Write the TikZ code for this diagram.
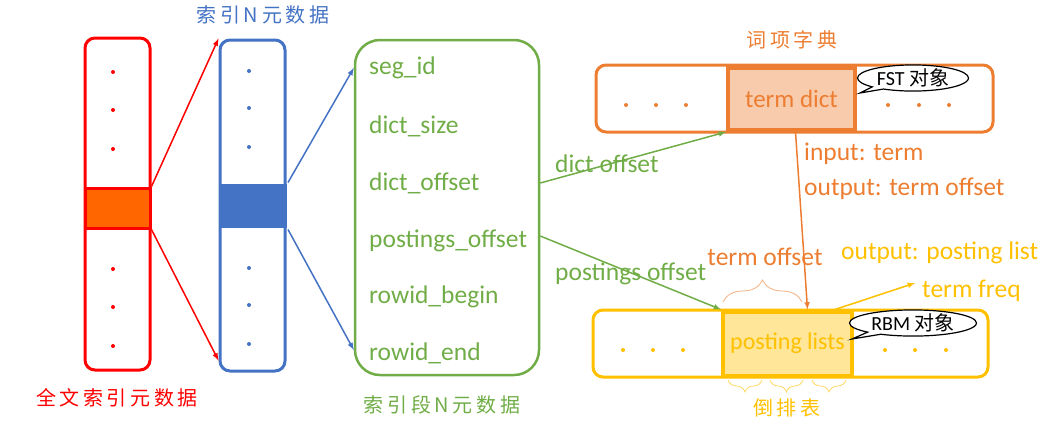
\documentclass[tikz,border=0pt]{standalone}
\usepackage{fontspec}
\setmainfont{Carlito}
\newfontfamily\cjk[LetterSpace=18]{Noto Sans CJK SC}
\newfontfamily\cjkn{Noto Sans CJK SC}
\usetikzlibrary{arrows,calc,shapes.callouts,decorations.pathreplacing}
\definecolor{idxred}{HTML}{FF0000}
\definecolor{bandorange}{HTML}{FF6600}
\definecolor{idxblue}{HTML}{4472C4}
\definecolor{seggreen}{HTML}{70AD47}
\definecolor{dictorange}{HTML}{ED7D31}
\definecolor{dictfill}{HTML}{F8CBAD}
\definecolor{postyellow}{HTML}{FFC000}
\definecolor{postfill}{HTML}{FFE699}
\definecolor{bracedict}{HTML}{F4B183}
\definecolor{bracepost}{HTML}{FFD966}
\tikzset{
	colbox/.style={draw, line width=3pt, rounded corners=10pt, inner sep=0pt},
	band/.style={line width=3pt, inner sep=0pt},
	item/.style={anchor=west, inner sep=2pt, font=\fontsize{25.5}{27}\selectfont},
	cnlabel/.style={inner sep=0pt, font=\cjk\fontsize{20}{22}\selectfont},
	bubble/.style={ellipse callout, draw=black, fill=white, line width=1.2pt, inner sep=0pt, font=\fontsize{20}{22}\selectfont},
	link/.style={-latex, line width=1.5pt},
}
\begin{document}
\begin{tikzpicture}[x=1pt,y=-1pt]
			\useasboundingbox (0,0) rectangle (1064,424);
			\node[colbox, draw=idxred, minimum width=65, minimum height=332] (ftbox) at (117.5,204) {};
			\node[band, draw=idxred, fill=bandorange, minimum width=65, minimum height=40] (ftband) at (117.5,208) {};
			\foreach \y in {72,110,149,269,307,346}
				\fill[idxred] (113,\y) circle (2);
			\node[cnlabel, text=idxred] (ftlabel) at (117,398) {全文索引元数据};
			\node[colbox, draw=idxblue, minimum width=65, minimum height=331] (idxbox) at (252.5,205.5) {};
			\node[band, fill=idxblue, minimum width=68, minimum height=44] (idxband) at (252.5,206) {};
			\foreach \y in {71,108,147,268,305,344}
				\fill[idxblue] (249,\y) circle (2);
			\node[cnlabel, text=idxblue] (idxlabel) at (263,15) {索引N元数据};
			\node[colbox, draw=seggreen, line width=2.5pt, rounded corners=25pt, minimum width=184, minimum height=335] (segbox) at (447,207.5) {};
			\node[item, text=seggreen] (segid) at (367,68) {seg\_id};
			\node[item, text=seggreen] (dictsize) at (367,126) {dict\_size};
			\node[item, text=seggreen] (dictoff) at (367,183) {dict\_offset};
			\node[item, text=seggreen] (postoff) at (367,241) {postings\_offset};
			\node[item, text=seggreen] (rowbegin) at (367,297) {rowid\_begin};
			\node[item, text=seggreen] (rowend) at (367,353) {rowid\_end};
			\node[cnlabel, text=seggreen] (seglabel) at (442,405) {索引段N元数据};
			\draw[link, idxred] (ftband.north east) -- (idxbox.north west);
			\draw[link, idxred] (ftband.south east) -- ($(idxbox.south west)+(0,-12)$);
			\draw[link, idxblue] (idxband.north east) -- (segbox.west |- segid);
			\draw[link, idxblue] (idxband.south east) -- ($(segbox.west |- rowend)+(0,-3)$);
			\node[colbox, draw=dictorange, minimum width=397, minimum height=67] (dictbox) at (794.5,98.5) {};
			\node[band, draw=dictorange, fill=dictfill, line width=4pt, minimum width=127, minimum height=62, text=dictorange, font=\fontsize{25}{27}\selectfont] (termdict) at (791.5,99) {term dict};
			\foreach \x in {626,656,686,888,919,949}
				\fill[dictorange] (\x,105) circle (2);
			\node[cnlabel, text=dictorange] (dictlabel) at (792,40) {词项字典};
			\coordinate (fsttip) at (860,93);
			\node[bubble, minimum width=111, minimum height=26, callout absolute pointer={(fsttip)}] (fst) at (913,78) {FST {\cjkn 对象}};
			\node[colbox, draw=postyellow, minimum width=395, minimum height=67] (postbox) at (790.5,343.5) {};
			\node[band, draw=postyellow, fill=postfill, line width=4pt, minimum width=129, minimum height=64, text=postyellow, font=\fontsize{24}{26}\selectfont] (postlist) at (787.5,343.5) {posting lists};
			\foreach \x in {623,653,683,885,915,946}
				\fill[postyellow] (\x,350) circle (2);
			\node[cnlabel, text=postyellow] (postlabel) at (787,408) {倒排表};
			\coordinate (rbmtip) at (852,339);
			\node[bubble, minimum width=127, minimum height=24, callout absolute pointer={(rbmtip)}] (rbm) at (913,323) {RBM {\cjkn 对象}};
			\draw[link, seggreen] (segbox.east |- dictoff) -- (termdict.south west);
			\draw[link, seggreen] ($(segbox.east |- postoff)+(0,-5)$) -- (postlist.north west);
			\node[item, text=seggreen] (dictofflabel) at (553,164) {dict offset};
			\node[item, text=seggreen] (postofflabel) at (553,274) {postings offset};
			\draw[link, dictorange] ($(termdict.south)+(4,0)$) -- ($(postlist.north)+(20,0)$);
			\node[item, text=dictorange] (inputterm) at (802,154) {input: term};
			\node[item, text=dictorange] (outputterm) at (802,189) {output: term offset};
			\draw[decorate, decoration={brace, amplitude=22}, bracedict, line width=0.8pt] (723,302) -- (802,302);
			\node[item, anchor=center, text=dictorange] (termoffset) at (765,257) {term offset};
			\node[item, text=postyellow] (outputpost) at (839,253) {output: posting list};
			\node[item, text=postyellow] (termfreq) at (920,291) {term freq};
			\draw[link, postyellow] ($(postlist.north east)+(-19,0)$) -- ($(termfreq.west)+(-5,-8)$);
			\foreach \a/\b in {728/762,770/803,812/846}
				\draw[decorate, decoration={brace, amplitude=12}, bracepost, line width=0.8pt] (\b,380) -- (\a,380);
		\end{tikzpicture}
\end{document}
